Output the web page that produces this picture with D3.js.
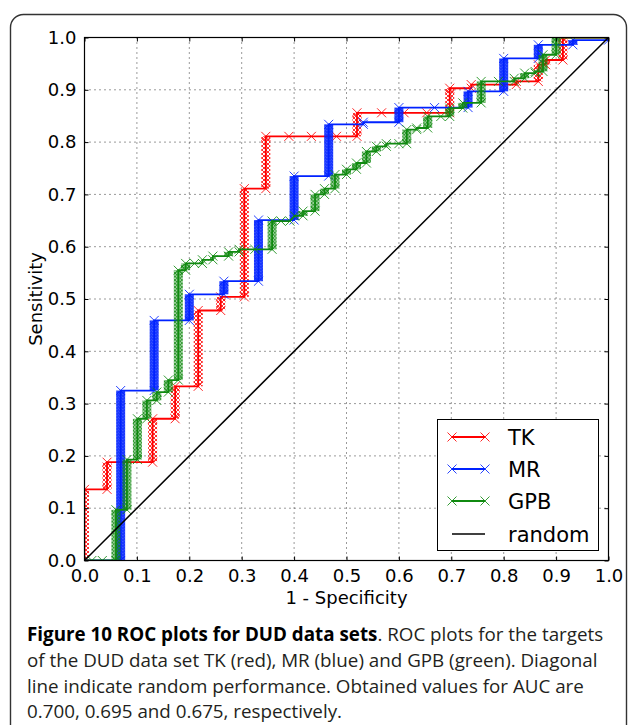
<!DOCTYPE html>
<html>
<head>
<meta charset="utf-8">
<script src="https://cdn.jsdelivr.net/npm/d3@7"></script>
<style>
  html, body { margin: 0; padding: 0; background: #fff; }
  svg { display: block; }
</style>
</head>
<body>
<div id="chart"></div>
<script>
// ---- Data ----
const seriesNames = ["TK", "MR", "GPB", "random"];
const xTicks = [0.0, 0.1, 0.2, 0.3, 0.4, 0.5, 0.6, 0.7, 0.8, 0.9, 1.0];
const yTicks = [0.0, 0.1, 0.2, 0.3, 0.4, 0.5, 0.6, 0.7, 0.8, 0.9, 1.0];

// ROC points [1 - specificity, sensitivity]
const tkPoints = [
  [0,0],[0,0.136],[0.043,0.136],[0.043,0.188],[0.13,0.188],[0.13,0.271],
  [0.173,0.271],[0.173,0.333],[0.217,0.333],[0.217,0.478],[0.26,0.478],
  [0.26,0.504],[0.305,0.504],[0.305,0.711],[0.346,0.711],[0.346,0.811],
  [0.39,0.811],[0.433,0.811],[0.481,0.811],[0.52,0.811],[0.52,0.856],
  [0.567,0.856],[0.61,0.856],[0.653,0.856],[0.697,0.856],[0.697,0.903],
  [0.738,0.903],[0.738,0.91],[0.8,0.91],[0.824,0.91],[0.824,0.916],
  [0.866,0.916],[0.866,0.948],[0.88,0.948],[0.88,0.957],[0.913,0.957],
  [0.913,1.0],[1.0,1.0]
];
const mrPoints = [
  [0,0],[0.069,0],[0.069,0.325],[0.133,0.325],[0.133,0.459],[0.2,0.459],
  [0.2,0.509],[0.266,0.509],[0.266,0.534],[0.332,0.534],[0.332,0.651],
  [0.4,0.651],[0.4,0.735],[0.466,0.735],[0.466,0.834],[0.532,0.834],
  [0.532,0.838],[0.6,0.838],[0.6,0.866],[0.668,0.866],[0.732,0.866],
  [0.732,0.897],[0.8,0.897],[0.8,0.96],[0.866,0.96],[0.866,0.986],
  [0.932,0.986],[0.932,0.995],[1.0,0.995],[1.0,1.0]
];
const gpbPoints = [
  [0,0],[0.014,0],[0.034,0],[0.06,0],[0.06,0.097],[0.081,0.097],[0.081,0.193],
  [0.101,0.193],[0.101,0.271],[0.119,0.271],[0.119,0.306],[0.138,0.306],
  [0.138,0.322],[0.16,0.322],[0.16,0.345],[0.179,0.345],[0.179,0.555],
  [0.193,0.555],[0.193,0.568],[0.21,0.568],[0.225,0.568],[0.225,0.575],
  [0.245,0.575],[0.245,0.582],[0.275,0.582],[0.275,0.59],[0.295,0.59],
  [0.295,0.595],[0.325,0.595],[0.358,0.595],[0.358,0.649],[0.375,0.649],
  [0.392,0.649],[0.401,0.659],[0.417,0.659],[0.417,0.668],[0.44,0.668],
  [0.44,0.70],[0.458,0.70],[0.458,0.711],[0.478,0.711],[0.478,0.738],
  [0.5,0.738],[0.5,0.748],[0.519,0.748],[0.519,0.76],[0.538,0.76],
  [0.538,0.782],[0.557,0.782],[0.557,0.792],[0.576,0.792],[0.576,0.797],
  [0.6,0.797],[0.615,0.797],[0.615,0.824],[0.634,0.824],[0.634,0.827],
  [0.655,0.827],[0.655,0.849],[0.68,0.849],[0.697,0.849],[0.697,0.865],
  [0.722,0.865],[0.722,0.875],[0.757,0.875],[0.757,0.916],[0.79,0.916],
  [0.82,0.916],[0.82,0.922],[0.84,0.922],[0.84,0.932],[0.86,0.932],
  [0.86,0.935],[0.875,0.935],[0.875,0.967],[0.9,0.967],[0.9,1.0],[1.0,1.0]
];
const randomPoints = [[0,0],[1,1]];

const colors = { TK: "#ff0000", MR: "#0022ff", GPB: "#108a10", random: "#000000" };

// ---- Layout ----
const W = 628, H = 725;
const plot = { left: 84.5, right: 608.5, top: 37.5, bottom: 560.5 };

const svg = d3.select("#chart").append("svg")
  .attr("width", W).attr("height", H)
  .style("font-family", "'DejaVu Sans', sans-serif");

// Figure frame (rounded box, bottom cut off)
svg.append("rect")
  .attr("x", 10.5).attr("y", 14.5).attr("width", 616).attr("height", 760)
  .attr("rx", 13).attr("ry", 13)
  .attr("fill", "none").attr("stroke", "#333").attr("stroke-width", 1.4);

const x = d3.scaleLinear().domain([0, 1]).range([plot.left, plot.right]);
const y = d3.scaleLinear().domain([0, 1]).range([plot.bottom, plot.top]);

// hatch patterns for dense marker columns
const defs = svg.append("defs");
function hatch(id, color, sw, size) {
  const p = defs.append("pattern").attr("id", id)
    .attr("patternUnits", "userSpaceOnUse")
    .attr("width", size).attr("height", size);
  p.append("path")
    .attr("d", `M0,0L${size},${size}M${size},0L0,${size}M${-size/2},${size/2}L${size/2},${size*1.5}M${size/2},${-size/2}L${size*1.5},${size/2}M${-size/2},${size/2}L${size/2},${-size/2}M${size/2},${size*1.5}L${size*1.5},${size/2}`)
    .attr("stroke", color).attr("stroke-width", sw).attr("fill", "none");
}
hatch("h-TK", colors.TK, 0.9, 4);
hatch("h-MR", colors.MR, 1.6, 3);
hatch("h-GPB", colors.GPB, 1.2, 3.5);

defs.append("clipPath").attr("id", "plotclip").append("rect")
  .attr("x", plot.left).attr("y", plot.top)
  .attr("width", plot.right - plot.left).attr("height", plot.bottom - plot.top);

// Grid
const grid = svg.append("g");
grid.selectAll(".gx").data(xTicks.slice(1, -1)).join("line")
  .attr("x1", d => x(d)).attr("x2", d => x(d))
  .attr("y1", plot.top).attr("y2", plot.bottom)
  .attr("stroke", "#000").attr("stroke-width", 0.8).attr("stroke-dasharray", "1,4");
grid.selectAll(".gy").data(yTicks.slice(1, -1)).join("line")
  .attr("y1", d => y(d)).attr("y2", d => y(d))
  .attr("x1", plot.left).attr("x2", plot.right)
  .attr("stroke", "#000").attr("stroke-width", 0.8).attr("stroke-dasharray", "1,4");

// Series
const line = d3.line().x(d => x(d[0])).y(d => y(d[1]));
const xMarker = s => `M${-s},${-s}L${s},${s}M${-s},${s}L${s},${-s}`;
const plotG = svg.append("g").attr("clip-path", "url(#plotclip)");

function drawSeries(name, pts) {
  const g = plotG.append("g");
  const col = colors[name];
  // dense marker columns on vertical runs
  const runs = [];
  for (let i = 1; i < pts.length; i++) {
    if (pts[i][0] === pts[i-1][0] && Math.abs(y(pts[i][1]) - y(pts[i-1][1])) > 4) {
      runs.push([pts[i-1], pts[i]]);
    }
  }
  g.selectAll("rect.run").data(runs).join("rect")
    .attr("x", d => x(d[0][0]) - 4.5)
    .attr("y", d => y(Math.max(d[0][1], d[1][1])))
    .attr("width", 9)
    .attr("height", d => Math.abs(y(d[0][1]) - y(d[1][1])))
    .attr("fill", `url(#h-${name})`).attr("opacity", 0.9);
  g.append("path").datum(pts).attr("d", line)
    .attr("fill", "none").attr("stroke", col).attr("stroke-width", 1.8);
  g.selectAll("path.m").data(pts).join("path")
    .attr("transform", d => `translate(${x(d[0])},${y(d[1])})`)
    .attr("d", xMarker(4.5))
    .attr("stroke", col).attr("stroke-width", 1).attr("fill", "none")
    .attr("opacity", 0.85);
}
drawSeries("TK", tkPoints);
drawSeries("MR", mrPoints);
drawSeries("GPB", gpbPoints);
plotG.append("path").datum(randomPoints).attr("d", line)
  .attr("fill", "none").attr("stroke", "#000").attr("stroke-width", 1.5);

// Frame
svg.append("rect")
  .attr("x", plot.left).attr("y", plot.top)
  .attr("width", plot.right - plot.left).attr("height", plot.bottom - plot.top)
  .attr("fill", "none").attr("stroke", "#000").attr("stroke-width", 1.2);

// Axes (inward ticks on all sides)
const fmt = d3.format(".1f");
const axB = svg.append("g").attr("transform", `translate(0,${plot.bottom})`)
  .call(d3.axisBottom(x).tickValues(xTicks).tickFormat(fmt).tickSizeInner(-4).tickSizeOuter(0).tickPadding(9));
const axL = svg.append("g").attr("transform", `translate(${plot.left},0)`)
  .call(d3.axisLeft(y).tickValues(yTicks).tickFormat(fmt).tickSizeInner(-4).tickSizeOuter(0).tickPadding(8));
const axT = svg.append("g").attr("transform", `translate(0,${plot.top})`)
  .call(d3.axisTop(x).tickValues(xTicks).tickFormat("").tickSizeInner(-4).tickSizeOuter(0));
const axR = svg.append("g").attr("transform", `translate(${plot.right},0)`)
  .call(d3.axisRight(y).tickValues(yTicks).tickFormat("").tickSizeInner(-4).tickSizeOuter(0));
[axB, axL, axT, axR].forEach(a => {
  a.select(".domain").remove();
  a.selectAll("line").attr("stroke", "#000");
  a.selectAll("text").attr("font-size", 18).attr("fill", "#000")
    .style("font-family", "'DejaVu Sans', sans-serif");
});

// Axis titles
svg.append("text").attr("x", (plot.left + plot.right) / 2).attr("y", 604)
  .attr("text-anchor", "middle").attr("font-size", 18).text("1 - Specificity");
svg.append("text").attr("transform", `translate(42,${(plot.top + plot.bottom) / 2}) rotate(-90)`)
  .attr("text-anchor", "middle").attr("font-size", 18).text("Sensitivity");

// Legend
const leg = svg.append("g");
leg.append("rect").attr("x", 437.5).attr("y", 419.5).attr("width", 161).attr("height", 131)
  .attr("fill", "#fff").attr("stroke", "#000").attr("stroke-width", 1);
const legY = [437, 469, 501, 534];
seriesNames.forEach((name, i) => {
  const gy = legY[i];
  leg.append("line").attr("x1", 452).attr("x2", 485).attr("y1", gy).attr("y2", gy)
    .attr("stroke", colors[name]).attr("stroke-width", name === "random" ? 1.5 : 1.8);
  if (name !== "random") {
    [452, 485].forEach(px => {
      leg.append("path").attr("transform", `translate(${px},${gy})`).attr("d", xMarker(4.5))
        .attr("stroke", colors[name]).attr("stroke-width", 1).attr("fill", "none").attr("opacity", 0.85);
    });
  }
  leg.append("text").attr("x", 508).attr("y", gy + 7.5).attr("font-size", 21).text(name);
});

// Caption
const cap = svg.append("g").style("font-family", "'Open Sans', sans-serif")
  .attr("font-size", 18.8).attr("fill", "#231f20");
const capLines = [
  [{t: "Figure 10 ROC plots for DUD data sets", b: true}, {t: ". ROC plots for the targets", b: false}],
  [{t: "of the DUD data set TK (red), MR (blue) and GPB (green). Diagonal", b: false}],
  [{t: "line indicate random performance. Obtained values for AUC are", b: false}],
  [{t: "0.700, 0.695 and 0.675, respectively.", b: false}]
];
const capY = [641, 667, 693, 718];
capLines.forEach((ln, i) => {
  const t = cap.append("text").attr("x", 27).attr("y", capY[i]);
  ln.forEach(s => t.append("tspan").attr("font-weight", s.b ? 700 : 400)
    .attr("fill", s.b ? "#000" : "#231f20").text(s.t));
});
</script>
</body>
</html>
